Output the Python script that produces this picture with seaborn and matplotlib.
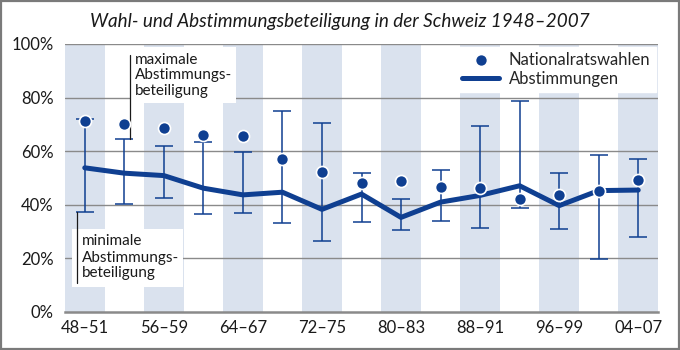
import matplotlib
matplotlib.use("Agg")
import matplotlib.pyplot as plt
import seaborn as sns
import pandas as pd
import numpy as np
from matplotlib.patches import Rectangle

periods = ["48–51", "52–55", "56–59", "60–63", "64–67", "68–71", "72–75", "76–79",
           "80–83", "84–87", "88–91", "92–95", "96–99", "00–03", "04–07"]
nationalrat = [71.3, 70.1, 68.5, 66.2, 65.8, 57.0, 52.4, 48.2, 49.0, 46.8, 46.4, 42.3, 43.5, 45.3, 49.1]
abst_mean = [53.8, 51.8, 50.9, 46.2, 43.7, 44.7, 38.3, 44.0, 35.3, 41.0, 43.5, 47.1, 39.7, 45.3, 45.5]
abst_max = [72.1, 64.4, 61.9, 63.5, 59.7, 74.9, 70.4, 52.0, 42.3, 52.9, 69.3, 78.8, 51.9, 58.5, 57.1]
abst_min = [37.4, 40.3, 42.5, 36.5, 37.1, 33.1, 26.6, 33.7, 30.5, 34.1, 31.3, 38.8, 31.0, 19.7, 28.0]
yticks = [0, 20, 40, 60, 80, 100]
max_label = ["maximale", "Abstimmungs-", "beteiligung"]
min_label = ["minimale", "Abstimmungs-", "beteiligung"]

BLUE = "#0f3f91"
BAND = "#dae2ee"
GRID = "#8a8a8a"
TXT = "#1a1a1a"

df = pd.DataFrame({"x": np.arange(len(periods)), "period": periods,
                   "nr": nationalrat, "mean": abst_mean,
                   "max": abst_max, "min": abst_min})

sns.set_theme(style="white")
plt.rcParams["font.family"] = ["Lato", "DejaVu Sans"]

fig = plt.figure(figsize=(6.8, 3.5), dpi=100)
ax = fig.add_axes([65/680, 38/350, 593/680, 268/350])

# alternating bands
for i in range(0, len(periods), 2):
    ax.axvspan(i - 0.5, i + 0.5, color=BAND, lw=0, zorder=0)

# gridlines
for yv in yticks[1:]:
    ax.axhline(yv, color=GRID, lw=1.0, zorder=1)

# error bars (min-max)
mid = (df["max"] + df["min"]) / 2
half = (df["max"] - df["min"]) / 2
ax.errorbar(df["x"], mid, yerr=half, fmt="none", ecolor=BLUE, elinewidth=1.1,
            capsize=6.5, capthick=1.1, zorder=3)

sns.lineplot(data=df, x="x", y="mean", ax=ax, color=BLUE, lw=3.6,
             zorder=4, label="Abstimmungen", legend=False)
sns.scatterplot(data=df, x="x", y="nr", ax=ax, color=BLUE, s=75,
                edgecolor="white", linewidth=1.2, zorder=5,
                label="Nationalratswahlen", legend=False)

ax.set_xlim(-0.5, len(periods) - 0.5)
ax.set_ylim(0, 100)
ax.set_yticks(yticks)
ax.set_yticklabels([f"{v}%" for v in yticks])
ax.set_xticks(df["x"][::2])
ax.set_xticklabels(df["period"][::2])
ax.set_xlabel("")
ax.set_ylabel("")
ax.tick_params(axis="both", length=0, labelsize=12, colors=TXT)
ax.tick_params(axis="y", pad=8)
ax.tick_params(axis="x", pad=6)
for s in ["left", "right", "top"]:
    ax.spines[s].set_visible(False)
ax.spines["bottom"].set_color(GRID)
ax.spines["bottom"].set_linewidth(1.8)
ax.spines["bottom"].set_zorder(2)

# annotation: maximum
ax.add_patch(Rectangle((1.18, 78.0), 2.65, 21.0, facecolor="white", lw=0, zorder=2))
ax.plot([1.144, 1.144], [64.4, 95.9], color=TXT, lw=0.9, zorder=3)
for txt, yb in zip(max_label, [92.5, 87.0, 80.9]):
    ax.text(1.28, yb, txt, ha="left", va="baseline", fontsize=11, color=TXT, zorder=4)

# annotation: minimum
ax.add_patch(Rectangle((-0.33, 9.4), 2.82, 21.6, facecolor="white", lw=0, zorder=2))
ax.plot([-0.204, -0.204], [37.4, 10.8], color=TXT, lw=0.9, zorder=3)
for txt, yb in zip(min_label, [25.0, 18.8, 13.2]):
    ax.text(-0.08, yb, txt, ha="left", va="baseline", fontsize=11, color=TXT, zorder=4)

# legend
h, l = ax.get_legend_handles_labels()
order = [l.index("Nationalratswahlen"), l.index("Abstimmungen")]
leg = ax.legend([h[i] for i in order], [l[i] for i in order], loc="upper right",
                frameon=True, fancybox=False, framealpha=1, facecolor="white",
                edgecolor="white", fontsize=12, borderaxespad=0.15,
                handlelength=2.2, handletextpad=0.6, labelspacing=0.2,
                borderpad=0.3)
leg.set_zorder(6)

fig.text(0.5, 0.938, "Wahl- und Abstimmungsbeteiligung in der Schweiz 1948–2007",
         ha="center", va="center", fontsize=13.6, style="italic", color=TXT)

fig.patches.append(Rectangle((0.002, 0.003), 0.996, 0.994, transform=fig.transFigure,
                             fill=False, edgecolor="#7a7a7a", lw=1.6))

fig.savefig("out.png", dpi=100)
